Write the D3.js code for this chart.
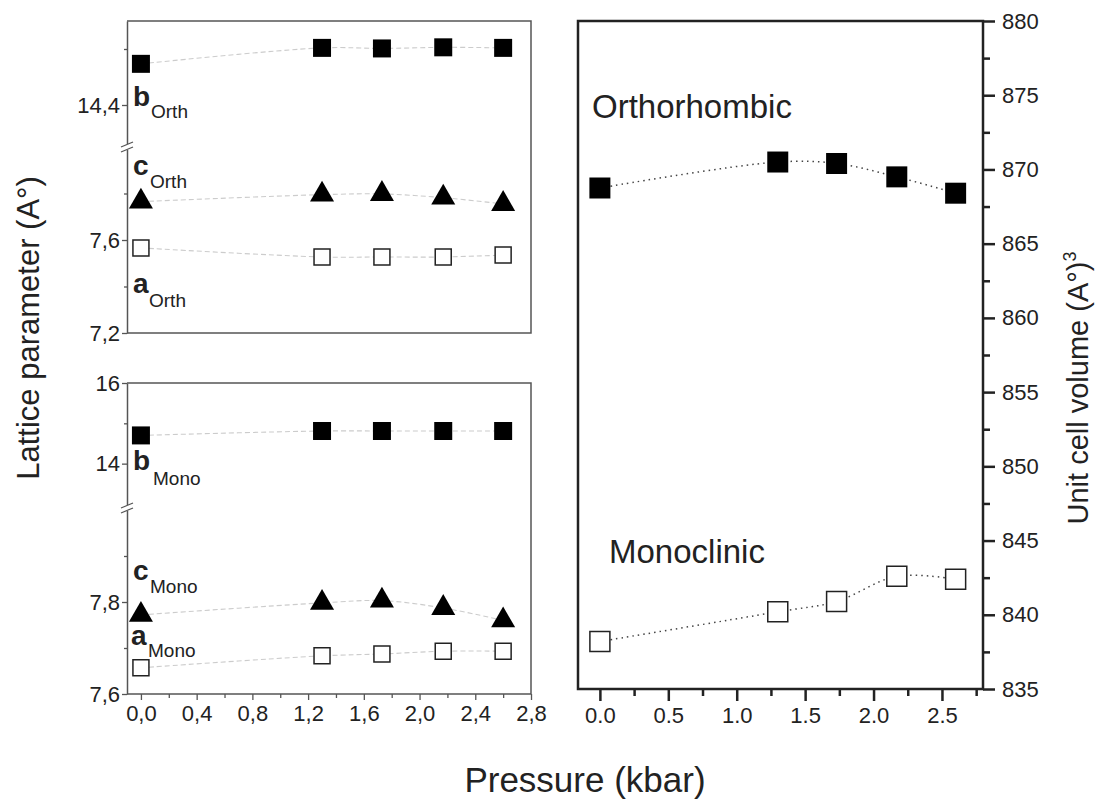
<!DOCTYPE html>
<html>
<head>
<meta charset="utf-8">
<script src="https://cdn.jsdelivr.net/npm/d3@7"></script>
<style>
  body { margin: 0; background: #fff; }
  text { font-family: "Liberation Sans", Arial, sans-serif; fill: #222; }
</style>
</head>
<body>
<div id="chart"></div>
<script>
// pressure points (kbar)
var pressure = [0, 1.30, 1.73, 2.17, 2.60]

// orthorhombic lattice parameters (A°)
var bOrth = [14.547, 14.604, 14.602, 14.606, 14.604]
var cOrth = [7.765, 7.795, 7.798, 7.782, 7.755]
var aOrth = [7.566, 7.527, 7.527, 7.527, 7.535]

// monoclinic lattice parameters (A°)
var bMono = [14.70, 14.81, 14.81, 14.81, 14.81]
var cMono = [7.772, 7.798, 7.803, 7.787, 7.760]
var aMono = [7.657, 7.683, 7.687, 7.693, 7.693]

// unit cell volume (A°)^3
var volOrth = [868.75, 870.5, 870.4, 869.5, 868.4]
var volMono = [838.2, 840.2, 840.9, 842.6, 842.4]

// tick values
var leftXMajor = [0, 0.4, 0.8, 1.2, 1.6, 2.0, 2.4, 2.8]
var leftXMinor = [0.2, 0.6, 1.0, 1.4, 1.8, 2.2, 2.6]
var rightXMajor = [0, 0.5, 1.0, 1.5, 2.0, 2.5]
var rightXMinor = [0.25, 0.75, 1.25, 1.75, 2.25, 2.75]
var volMajor = [835, 840, 845, 850, 855, 860, 865, 870, 875, 880]
var volMinor = [837.5, 842.5, 847.5, 852.5, 857.5, 862.5, 867.5, 872.5, 877.5]
var orthLowMajor = [7.2, 7.6], orthLowMinor = [7.4, 7.8]
var orthHighMajor = [14.4], orthHighMinor = [14.6]
var monoLowMajor = [7.6, 7.8], monoLowMinor = [7.7, 7.9]
var monoHighMajor = [14, 16], monoHighMinor = [15]

var W = 1101, H = 804

var svg = d3.select("#chart").append("svg")
  .attr("width", W)
  .attr("height", H)

svg.append("rect").attr("width", W).attr("height", H).attr("fill", "#fff")

var comma = d3.formatLocale({ decimal: ",", thousands: ".", grouping: [3], currency: ["", ""] })
var fmtComma = comma.format(".1f")
var fmtInt = d3.format("d")
var fmtDot = d3.format(".1f")

// ---------- left panels ----------
var lx = d3.scaleLinear().domain([-0.1, 2.8]).range([127, 531])

var frameColor = "#555"

// top-left panel (orthorhombic), broken y axis
var tlTop = 21, tlBot = 333, tlBreak = 147
var yOrthLow = d3.scaleLinear().domain([7.2, 8.0]).range([tlBot, tlBreak])
var yOrthHigh = d3.scaleLinear().domain([14.25, 14.7]).range([tlBreak, tlTop])

// bottom-left panel (monoclinic), broken y axis
var blTop = 383, blBot = 694, blBreak = 508
var yMonoLow = d3.scaleLinear().domain([7.6, 8.0]).range([blBot, 510])
var yMonoHigh = d3.scaleLinear().domain([12.9, 16]).range([blBreak, blTop])

function leftFrame(top, bot) {
  svg.append("path")
    .attr("d", `M${lx.range()[0]},${top}H${lx.range()[1]}V${bot}H${lx.range()[0]}`)
    .attr("fill", "none")
    .attr("stroke", frameColor)
    .attr("stroke-width", 1.5)
}

function brokenAxis(lowScale, highScale, lowMaj, lowMin, highMaj, highMin, breakY, highFmt) {
  var x0 = lx.range()[0]
  ;[[lowScale, lowMaj, lowMin, fmtComma], [highScale, highMaj, highMin, highFmt]].forEach(function (s) {
    var g = svg.append("g").attr("transform", `translate(${x0},0)`)
    g.call(d3.axisLeft(s[0]).tickValues(s[1]).tickSize(5).tickSizeOuter(0).tickFormat(s[3]))
    g.select(".domain").attr("stroke", frameColor).attr("stroke-width", 1.5)
    g.selectAll(".tick line").attr("stroke", frameColor).attr("stroke-width", 1.3)
    g.selectAll(".tick text")
      .attr("x", -7)
      .style("font-size", "22px")
      .style("font-family", "'Liberation Sans', Arial, sans-serif")
      .attr("fill", "#333")
    var m = svg.append("g").attr("transform", `translate(${x0},0)`)
    m.call(d3.axisLeft(s[0]).tickValues(s[2]).tickSize(3).tickSizeOuter(0).tickFormat(""))
    m.select(".domain").remove()
    m.selectAll(".tick line").attr("stroke", frameColor).attr("stroke-width", 1.3)
  })
  // break marks
  svg.append("rect").attr("x", x0 - 4).attr("y", breakY - 3).attr("width", 8).attr("height", 6).attr("fill", "#fff")
  ;[-2.5, 2.5].forEach(function (d) {
    svg.append("line")
      .attr("x1", x0 - 6).attr("y1", breakY + d + 2.5)
      .attr("x2", x0 + 6).attr("y2", breakY + d - 2.5)
      .attr("stroke", frameColor).attr("stroke-width", 1.3)
  })
}

leftFrame(tlTop, tlBot)
leftFrame(blTop, blBot)
brokenAxis(yOrthLow, yOrthHigh, orthLowMajor, orthLowMinor, orthHighMajor, orthHighMinor, tlBreak, fmtComma)
brokenAxis(yMonoLow, yMonoHigh, monoLowMajor, monoLowMinor, monoHighMajor, monoHighMinor, blBreak, fmtInt)

// bottom x axis of lower-left panel
var lxAxis = svg.append("g").attr("transform", `translate(0,${blBot})`)
lxAxis.call(d3.axisBottom(lx).tickValues(leftXMajor).tickSize(6).tickSizeOuter(0).tickFormat(fmtComma))
lxAxis.select(".domain").remove()
lxAxis.selectAll(".tick line").attr("stroke", frameColor).attr("stroke-width", 1.3)
lxAxis.selectAll(".tick text")
  .attr("y", 11)
  .style("font-size", "22px")
  .style("font-family", "'Liberation Sans', Arial, sans-serif")
  .attr("fill", "#333")
var lxMinor = svg.append("g").attr("transform", `translate(0,${blBot})`)
lxMinor.call(d3.axisBottom(lx).tickValues(leftXMinor).tickSize(4).tickSizeOuter(0).tickFormat(""))
lxMinor.select(".domain").remove()
lxMinor.selectAll(".tick line").attr("stroke", frameColor).attr("stroke-width", 1.3)

// series in left panels
var leftSeries = [
  { vals: bOrth, y: yOrthHigh, shape: "fsq" },
  { vals: cOrth, y: yOrthLow, shape: "tri" },
  { vals: aOrth, y: yOrthLow, shape: "osq" },
  { vals: bMono, y: yMonoHigh, shape: "fsq" },
  { vals: cMono, y: yMonoLow, shape: "tri" },
  { vals: aMono, y: yMonoLow, shape: "osq" }
]

function drawSeries(s, xs, lineStyle, sqSize) {
  var pts = s.vals.map((v, i) => [xs(pressure[i]), s.y(v)])
  svg.append("path")
    .datum(pts)
    .attr("d", d3.line().curve(d3.curveCatmullRom))
    .attr("fill", "none")
    .attr("stroke", lineStyle.color)
    .attr("stroke-width", lineStyle.width)
    .attr("stroke-dasharray", lineStyle.dash)

  var sym = s.shape == "tri"
    ? d3.symbol().type(d3.symbolTriangle).size(250)
    : d3.symbol().type(d3.symbolSquare).size(sqSize * sqSize)

  svg.append("g").selectAll("path")
    .data(pts)
    .enter().append("path")
    .attr("transform", d => `translate(${d[0]},${d[1]})`)
    .attr("d", sym)
    .attr("fill", s.shape == "osq" ? "#fff" : "#000")
    .attr("stroke", s.shape == "osq" ? "#222" : "none")
    .attr("stroke-width", 1.5)
}

leftSeries.forEach(function (s) {
  drawSeries(s, lx, { color: "#cccccc", width: 1.1, dash: "5,3" }, s.shape == "osq" ? 16 : 18)
})

// series labels in left panels
var seriesLabels = [
  { main: "b", sub: "Orth", x: 133, y: 106, sx: 151, sy: 118 },
  { main: "c", sub: "Orth", x: 133, y: 175, sx: 150, sy: 188 },
  { main: "a", sub: "Orth", x: 133, y: 293, sx: 149, sy: 307 },
  { main: "b", sub: "Mono", x: 133, y: 470, sx: 153, sy: 485 },
  { main: "c", sub: "Mono", x: 133, y: 580, sx: 150, sy: 593 },
  { main: "a", sub: "Mono", x: 131, y: 645, sx: 148, sy: 657 }
]
seriesLabels.forEach(function (l) {
  svg.append("text").attr("x", l.x).attr("y", l.y)
    .style("font-size", "28px").style("font-weight", "bold").attr("fill", "#111")
    .text(l.main)
  svg.append("text").attr("x", l.sx).attr("y", l.sy)
    .style("font-size", "19px").attr("fill", "#333")
    .text(l.sub)
})

// ---------- right panel ----------
var rx = d3.scaleLinear().domain([-0.16, 2.8]).range([578, 983])
var ry = d3.scaleLinear().domain([835, 880]).range([689, 21])

svg.append("rect")
  .attr("x", 578).attr("y", 21).attr("width", 983 - 578).attr("height", 689 - 21)
  .attr("fill", "none").attr("stroke", "#222").attr("stroke-width", 2.5)

var rxAxis = svg.append("g").attr("transform", `translate(0,689)`)
rxAxis.call(d3.axisBottom(rx).tickValues(rightXMajor).tickSize(12).tickSizeOuter(0).tickFormat(fmtDot))
rxAxis.select(".domain").remove()
rxAxis.selectAll(".tick line").attr("stroke", "#222").attr("stroke-width", 2.5)
rxAxis.selectAll(".tick text")
  .attr("y", 18)
  .style("font-size", "22px")
  .style("font-family", "'Liberation Sans', Arial, sans-serif")
  .attr("fill", "#333")
var rxMinor = svg.append("g").attr("transform", `translate(0,689)`)
rxMinor.call(d3.axisBottom(rx).tickValues(rightXMinor).tickSize(7).tickSizeOuter(0).tickFormat(""))
rxMinor.select(".domain").remove()
rxMinor.selectAll(".tick line").attr("stroke", "#222").attr("stroke-width", 2.5)

var ryAxis = svg.append("g").attr("transform", `translate(983,0)`)
ryAxis.call(d3.axisRight(ry).tickValues(volMajor).tickSize(12).tickSizeOuter(0))
ryAxis.select(".domain").remove()
ryAxis.selectAll(".tick line").attr("stroke", "#222").attr("stroke-width", 2.5)
ryAxis.selectAll(".tick text")
  .attr("x", 19)
  .style("font-size", "22px")
  .style("font-family", "'Liberation Sans', Arial, sans-serif")
  .attr("fill", "#333")
var ryMinor = svg.append("g").attr("transform", `translate(983,0)`)
ryMinor.call(d3.axisRight(ry).tickValues(volMinor).tickSize(7).tickSizeOuter(0).tickFormat(""))
ryMinor.select(".domain").remove()
ryMinor.selectAll(".tick line").attr("stroke", "#222").attr("stroke-width", 2.5)

var rightSeries = [
  { vals: volOrth, y: ry, shape: "fsq" },
  { vals: volMono, y: ry, shape: "osq" }
]
rightSeries.forEach(function (s) {
  drawSeries(s, rx, { color: "#444", width: 1.5, dash: "1.5,4" }, s.shape == "osq" ? 20 : 21)
})

svg.append("text").attr("x", 592).attr("y", 118)
  .style("font-size", "33px").attr("fill", "#111")
  .text("Orthorhombic")
svg.append("text").attr("x", 609).attr("y", 563)
  .style("font-size", "33px").attr("fill", "#111")
  .text("Monoclinic")

// ---------- axis titles ----------
svg.append("text")
  .attr("transform", "translate(39,328) rotate(-90)")
  .attr("text-anchor", "middle")
  .style("font-size", "31px").attr("fill", "#111")
  .text("Lattice parameter (A°)")

svg.append("text")
  .attr("x", 585).attr("y", 792)
  .attr("text-anchor", "middle")
  .style("font-size", "35px").attr("fill", "#111")
  .text("Pressure (kbar)")

var vt = svg.append("text")
  .attr("transform", "translate(1088,388) rotate(-90)")
  .attr("text-anchor", "middle")
  .style("font-size", "29px").attr("fill", "#111")
vt.append("tspan").text("Unit cell volume (A°)")
vt.append("tspan").attr("dy", -12).style("font-size", "18px").text("3")
</script>
</body>
</html>
